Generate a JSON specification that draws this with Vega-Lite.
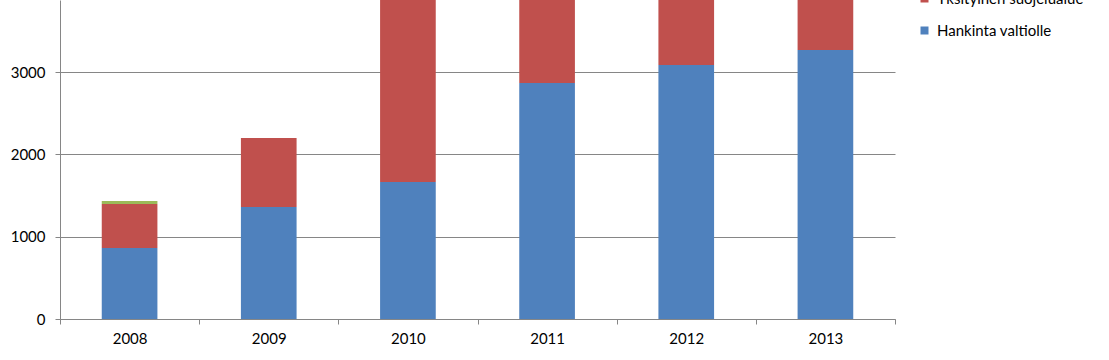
{
  "$schema": "https://vega.github.io/schema/vega-lite/v6.json",
  "autosize": {"type": "none"},
  "width": 835,
  "height": 319,
  "padding": {"left": 60, "top": 0, "right": 214, "bottom": 41},
  "background": "white",
  "config": {
    "view": {"stroke": null},
    "font": "Lato"
  },
  "data": {
    "values": [
      {"year": "2008", "series": "Hankinta valtiolle", "value": 863},
      {"year": "2008", "series": "Yksityinen suojelualue", "value": 534},
      {"year": "2008", "series": "Muu", "value": 37},
      {"year": "2009", "series": "Hankinta valtiolle", "value": 1361},
      {"year": "2009", "series": "Yksityinen suojelualue", "value": 838},
      {"year": "2009", "series": "Muu", "value": 0},
      {"year": "2010", "series": "Hankinta valtiolle", "value": 1665},
      {"year": "2010", "series": "Yksityinen suojelualue", "value": 2600},
      {"year": "2010", "series": "Muu", "value": 0},
      {"year": "2011", "series": "Hankinta valtiolle", "value": 2868},
      {"year": "2011", "series": "Yksityinen suojelualue", "value": 1500},
      {"year": "2011", "series": "Muu", "value": 0},
      {"year": "2012", "series": "Hankinta valtiolle", "value": 3086},
      {"year": "2012", "series": "Yksityinen suojelualue", "value": 1400},
      {"year": "2012", "series": "Muu", "value": 0},
      {"year": "2013", "series": "Hankinta valtiolle", "value": 3269},
      {"year": "2013", "series": "Yksityinen suojelualue", "value": 1200},
      {"year": "2013", "series": "Muu", "value": 0}
    ]
  },
  "transform": [
    {"calculate": "indexof(['Hankinta valtiolle','Yksityinen suojelualue','Muu'], datum.series)", "as": "stackOrder"}
  ],
  "mark": {"type": "bar", "clip": true, "width": {"band": 0.4}},
  "encoding": {
    "x": {
      "field": "year",
      "type": "nominal",
      "scale": {"paddingInner": 0, "paddingOuter": 0},
      "axis": {
        "title": null,
        "labelAngle": 0,
        "tickBand": "extent",
        "domainColor": "#868686",
        "tickColor": "#868686",
        "tickSize": 5,
        "labelPadding": 7,
        "labelFontSize": 15,
        "labelColor": "#000000",
        "grid": false
      }
    },
    "y": {
      "field": "value",
      "type": "quantitative",
      "stack": "zero",
      "scale": {"domain": [0, 3876], "nice": false},
      "axis": {
        "title": null,
        "values": [0, 1000, 2000, 3000],
        "format": "d",
        "grid": true,
        "gridColor": "#868686",
        "domainColor": "#868686",
        "tickColor": "#868686",
        "tickSize": 5,
        "labelPadding": 10,
        "labelFontSize": 15,
        "labelColor": "#000000"
      }
    },
    "order": {"field": "stackOrder", "type": "quantitative", "sort": "ascending"},
    "color": {
      "field": "series",
      "type": "nominal",
      "scale": {
        "domain": ["Hankinta valtiolle", "Yksityinen suojelualue", "Muu"],
        "range": ["#4F81BD", "#C0504D", "#9BBB59"]
      },
      "legend": {
        "title": null,
        "orient": "none",
        "legendX": 857,
        "legendY": -41,
        "values": ["Muu", "Yksityinen suojelualue", "Hankinta valtiolle"],
        "symbolType": "square",
        "symbolSize": 64,
        "symbolStrokeWidth": 0,
        "labelFontSize": 15,
        "labelColor": "#000000",
        "rowPadding": 16,
        "labelOffset": 5
      }
    }
  }
}
